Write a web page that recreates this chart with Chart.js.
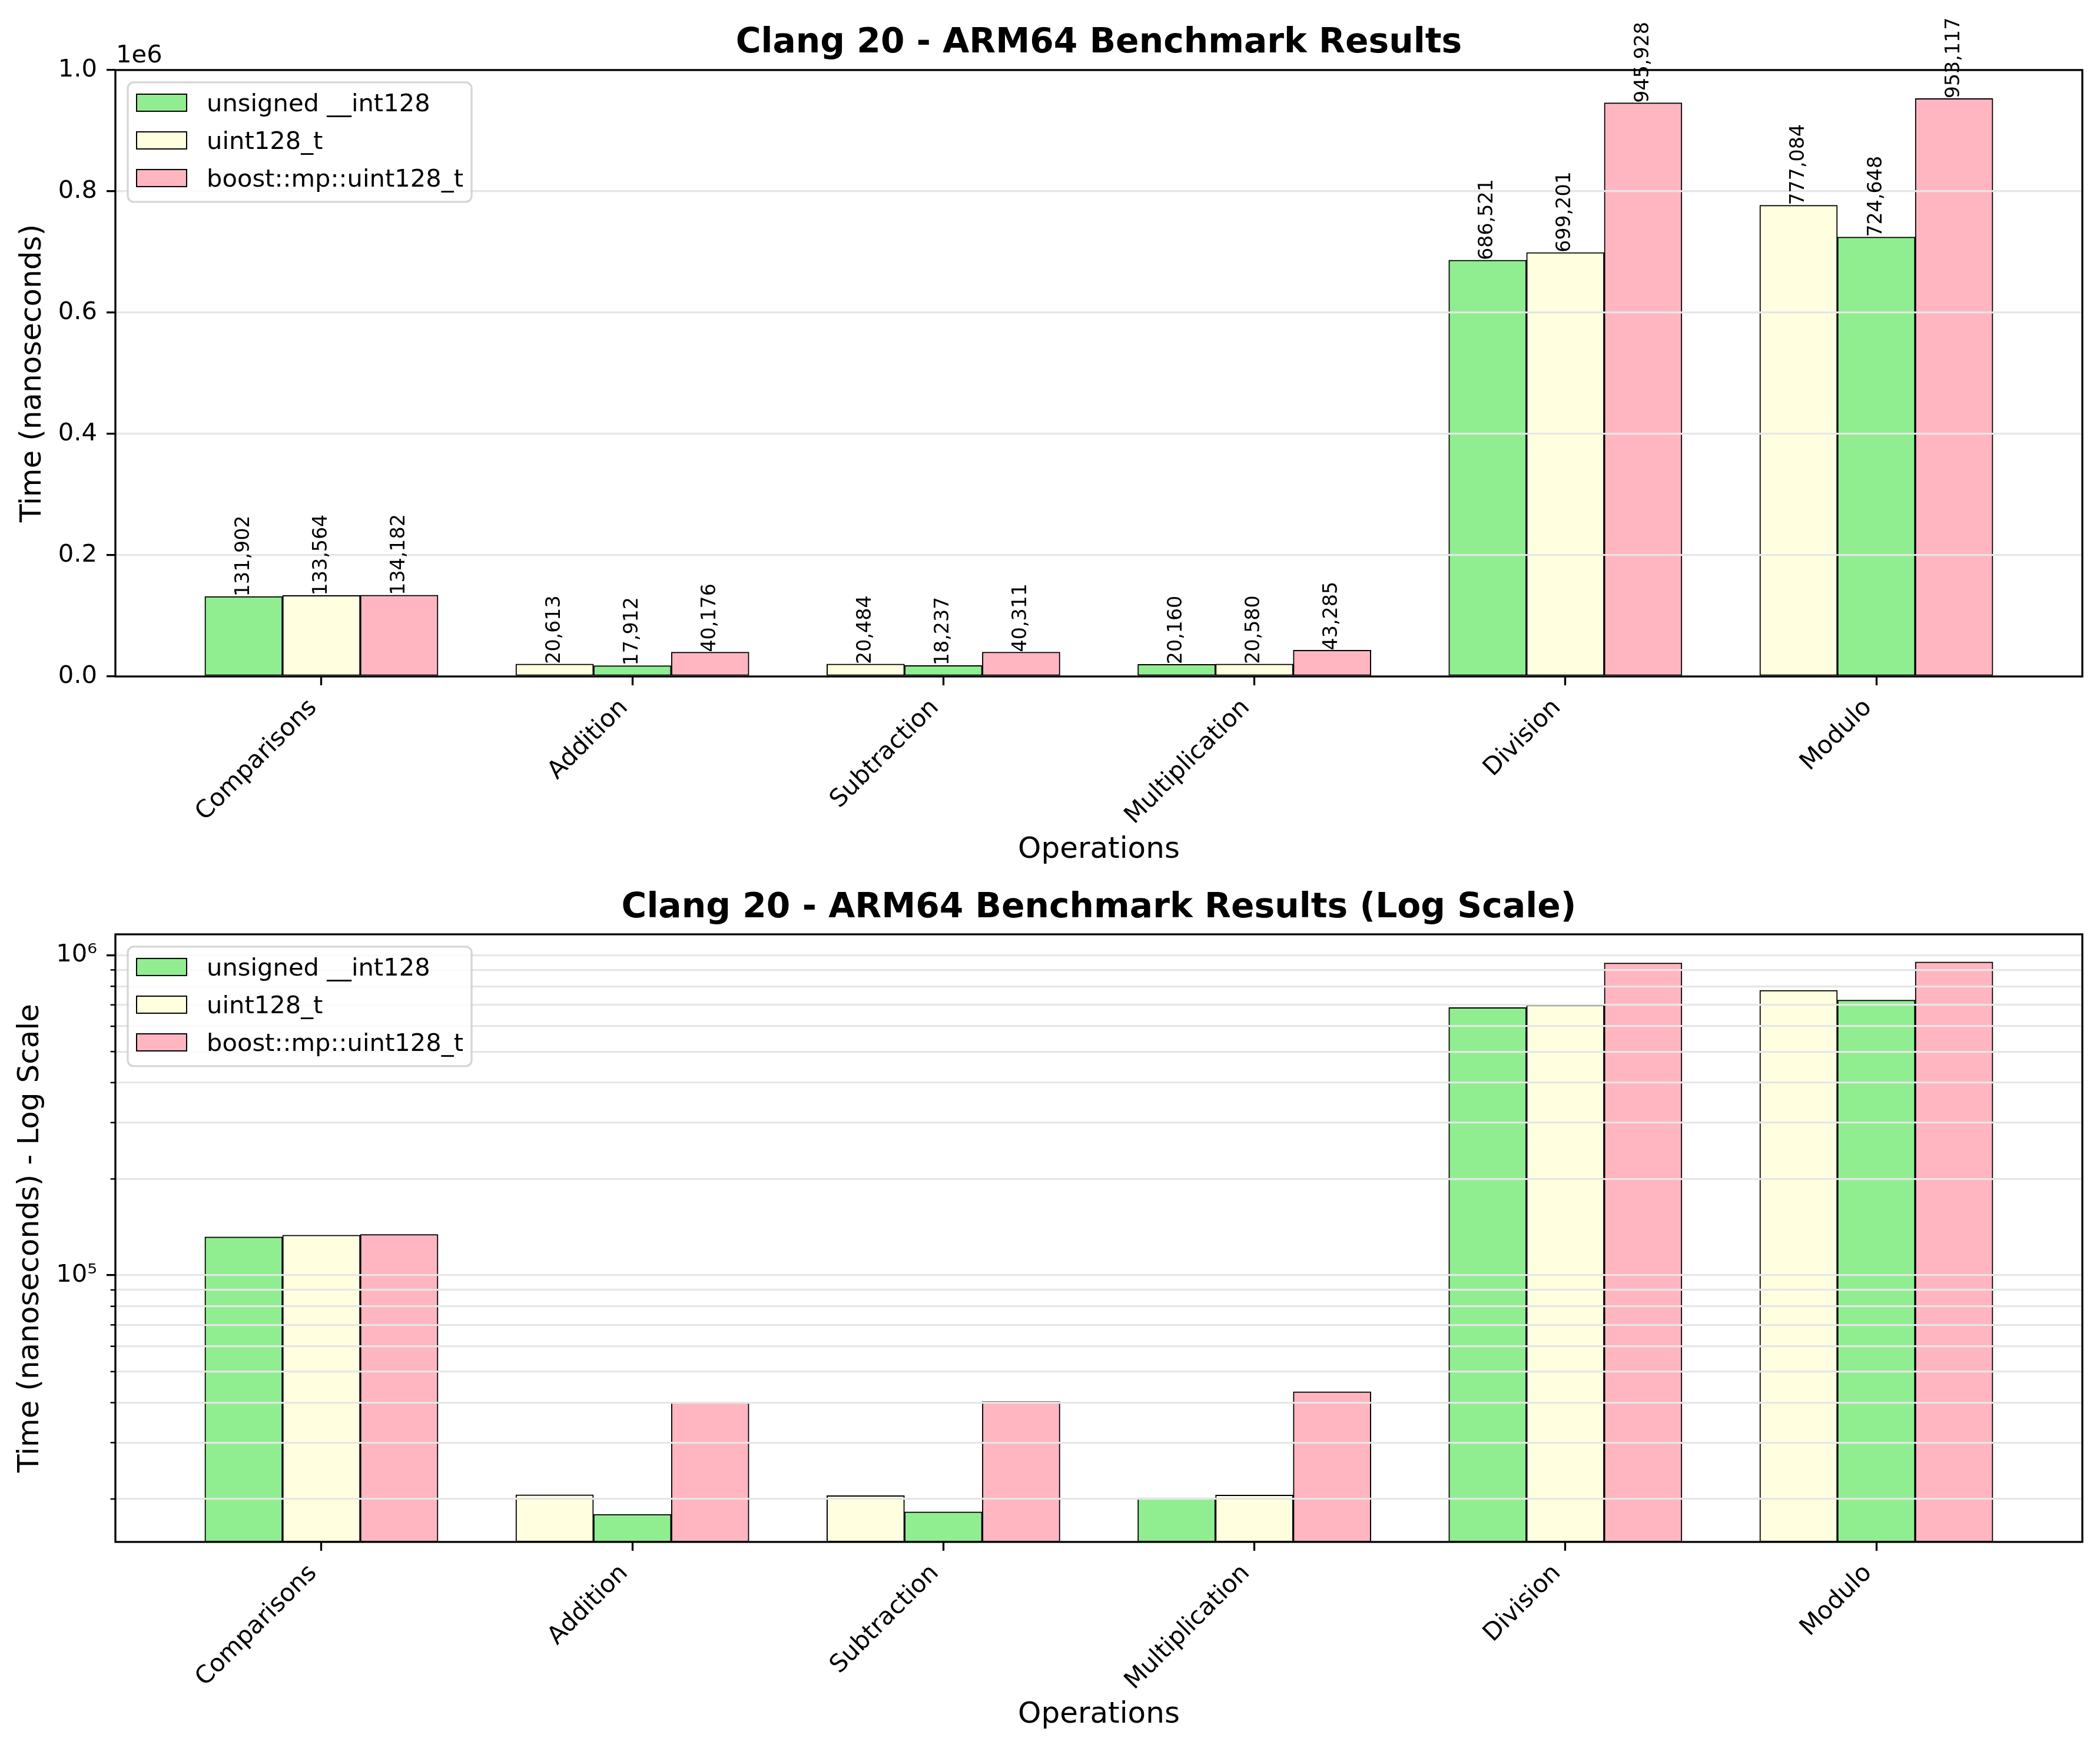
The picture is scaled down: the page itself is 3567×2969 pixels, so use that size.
<!DOCTYPE html>
<html>
<head>
<meta charset="utf-8">
<script src="https://cdn.jsdelivr.net/npm/chart.js@4.4.1/dist/chart.umd.min.js"></script>
<style>
  body { margin: 0; background: #fff; }
  canvas { position: absolute; left: 0; }
</style>
</head>
<body>
<canvas id="linearChart" width="3567" height="1500" style="top:0"></canvas>
<canvas id="logChart" width="3567" height="1469" style="top:1500px"></canvas>
<script>
const operations = ['Comparisons', 'Addition', 'Subtraction', 'Multiplication', 'Division', 'Modulo'];
const libraries = ['unsigned __int128', 'uint128_t', 'boost::mp::uint128_t'];
const int128Times = [131902, 17912, 18237, 20160, 686521, 724648];
const uint128Times = [133564, 20613, 20484, 20580, 699201, 777084];
const boostTimes = [134182, 40176, 40311, 43285, 945928, 953117];
// which slot (0 left, 1 middle, 2 right) each library gets inside a group
const int128Slot = [0, 1, 1, 0, 0, 1];
const uint128Slot = [1, 0, 0, 1, 1, 0];
const boostSlot = [2, 2, 2, 2, 2, 2];
const linearTicks = [0, 200000, 400000, 600000, 800000, 1000000];
const logMajorTicks = [1e5, 1e6];
const logMajorLabels = ['10⁵', '10⁶'];
const logMinorTicks = [2e4, 3e4, 4e4, 5e4, 6e4, 7e4, 8e4, 9e4, 2e5, 3e5, 4e5, 5e5, 6e5, 7e5, 8e5, 9e5];

const barColors = ['#90EE90', '#FFFFE0', '#FFB6C1'];
const FONT = "'DejaVu Sans', sans-serif";
const BAR_W = 0.25;

Chart.defaults.font.family = FONT;
Chart.defaults.color = '#000';

// x limits like matplotlib: bar extent plus 5% margin
const xLo = -1.5 * BAR_W, xHi = operations.length - 1 + 1.5 * BAR_W;
const X_MIN = xLo - 0.05 * (xHi - xLo), X_MAX = xHi + 0.05 * (xHi - xLo);

const allTimes = [...int128Times, ...uint128Times, ...boostTimes];
const lLo = Math.log10(Math.min(...allTimes)), lHi = Math.log10(Math.max(...allTimes));
const LOG_MIN = Math.pow(10, lLo - 0.05 * (lHi - lLo));
const LOG_MAX = Math.pow(10, lHi + 0.05 * (lHi - lLo));

function buildDatasets() {
  const series = [int128Times, uint128Times, boostTimes];
  const slots = [int128Slot, uint128Slot, boostSlot];
  return libraries.map((name, k) => ({
    label: name,
    data: series[k].map((v, i) => ({ x: i + (slots[k][i] - 1) * BAR_W, y: v })),
    backgroundColor: barColors[k],
    borderColor: '#000',
    borderWidth: 2,
    borderSkipped: false,
    grouped: false,
    categoryPercentage: 1,
    barPercentage: 1
  }));
}

function xScale(height) {
  return {
    type: 'linear',
    min: X_MIN,
    max: X_MAX,
    offset: false,
    afterBuildTicks: s => { s.ticks = operations.map((_, i) => ({ value: i })); },
    afterFit: s => { s.height = height; },
    grid: { offset: false, drawOnChartArea: false, drawTicks: true, tickLength: 15, tickColor: '#000', tickWidth: 3.3 },
    border: { display: false },
    ticks: {
      autoSkip: false, maxRotation: 45, minRotation: 45, padding: 14, labelOffset: -14,
      font: { size: 41.67 },
      callback: (v, i) => operations[i]
    },
    title: { display: true, text: 'Operations', font: { size: 50 }, padding: { top: 0, bottom: 26 } }
  };
}

const framePlugin = {
  id: 'frame',
  afterDraw(chart) {
    const { ctx, chartArea: a } = chart;
    ctx.save();
    ctx.strokeStyle = '#000';
    ctx.lineWidth = 3.3;
    ctx.strokeRect(a.left, a.top, a.right - a.left, a.bottom - a.top);
    ctx.restore();
  }
};

const valueLabelPlugin = {
  id: 'valueLabels',
  afterDraw(chart) {
    const ctx = chart.ctx;
    ctx.save();
    ctx.font = '33.3px ' + FONT;
    ctx.fillStyle = '#000';
    ctx.textAlign = 'left';
    ctx.textBaseline = 'middle';
    chart.data.datasets.forEach((ds, k) => {
      chart.getDatasetMeta(k).data.forEach((bar, i) => {
        ctx.save();
        ctx.translate(bar.x, bar.y);
        ctx.rotate(-Math.PI / 2);
        ctx.fillText(ds.data[i].y.toLocaleString('en-US'), 0, 0);
        ctx.restore();
      });
    });
    ctx.restore();
  }
};

const boxLegendPlugin = {
  id: 'boxLegend',
  afterDraw(chart) {
    const { ctx, chartArea: a } = chart;
    const x0 = a.left + 21, y0 = a.top + 21, w = 584, h = 203, r = 10;
    ctx.save();
    ctx.beginPath();
    ctx.roundRect(x0, y0, w, h, r);
    ctx.fillStyle = 'rgba(255,255,255,0.8)';
    ctx.fill();
    ctx.strokeStyle = 'rgba(204,204,204,0.8)';
    ctx.lineWidth = 3.3;
    ctx.stroke();
    ctx.font = '41.67px ' + FONT;
    ctx.textAlign = 'left';
    ctx.textBaseline = 'alphabetic';
    chart.data.datasets.forEach((ds, k) => {
      const cy = y0 + 34.5 + k * 64;
      ctx.fillStyle = ds.backgroundColor;
      ctx.fillRect(x0 + 15, cy - 14.5, 85, 29);
      ctx.strokeStyle = '#000';
      ctx.lineWidth = 2;
      ctx.strokeRect(x0 + 15, cy - 14.5, 85, 29);
      ctx.fillStyle = '#000';
      ctx.fillText(ds.label, x0 + 134, cy + 15);
    });
    ctx.restore();
  }
};

const offsetTextPlugin = {
  id: 'offsetText',
  afterDraw(chart) {
    const { ctx, chartArea: a } = chart;
    ctx.save();
    ctx.font = '41.67px ' + FONT;
    ctx.fillStyle = '#000';
    ctx.textAlign = 'left';
    ctx.textBaseline = 'alphabetic';
    ctx.fillText('1e6', a.left + 1, a.top - 13);
    ctx.restore();
  }
};

const minorTickPlugin = {
  id: 'minorTicks',
  afterDraw(chart) {
    const { ctx, chartArea: a } = chart;
    const y = chart.scales.y;
    ctx.save();
    ctx.strokeStyle = '#000';
    ctx.lineWidth = 2.5;
    y.ticks.forEach(t => {
      if (t.major) return;
      const py = y.getPixelForValue(t.value);
      ctx.beginPath();
      ctx.moveTo(a.left - 8.3, py);
      ctx.lineTo(a.left, py);
      ctx.stroke();
    });
    ctx.restore();
  }
};

new Chart(document.getElementById('linearChart'), {
  type: 'bar',
  data: { datasets: buildDatasets() },
  options: {
    responsive: false,
    animation: false,
    devicePixelRatio: 1,
    layout: { padding: { left: 0, right: 30, top: 0, bottom: 0 } },
    plugins: {
      legend: { display: false },
      tooltip: { enabled: false },
      title: {
        display: true, fullSize: false,
        text: 'Clang 20 - ARM64 Benchmark Results',
        font: { size: 58.3, weight: 'bold' },
        padding: { top: 39, bottom: 10 }
      }
    },
    scales: {
      x: xScale(351),
      y: {
        min: 0, max: 1e6,
        afterBuildTicks: s => { s.ticks = linearTicks.map(v => ({ value: v })); },
        afterFit: s => { s.width = 196; },
        grid: { color: '#e6e6e6', lineWidth: 3.3, z: 1, drawTicks: true, tickLength: 15, tickColor: '#000', tickWidth: 3.3 },
        border: { display: false },
        ticks: { padding: 16, font: { size: 41.67 }, callback: v => (v / 1e6).toFixed(1) },
        title: { display: true, text: 'Time (nanoseconds)', font: { size: 50 }, padding: { top: 26, bottom: 0 } }
      }
    }
  },
  plugins: [framePlugin, valueLabelPlugin, offsetTextPlugin, boxLegendPlugin]
});

new Chart(document.getElementById('logChart'), {
  type: 'bar',
  data: { datasets: buildDatasets() },
  options: {
    responsive: false,
    animation: false,
    devicePixelRatio: 1,
    layout: { padding: { left: 0, right: 30, top: 0, bottom: 0 } },
    plugins: {
      legend: { display: false },
      tooltip: { enabled: false },
      title: {
        display: true, fullSize: false,
        text: 'Clang 20 - ARM64 Benchmark Results (Log Scale)',
        font: { size: 58.3, weight: 'bold' },
        padding: { top: 8, bottom: 9 }
      }
    },
    scales: {
      x: xScale(350),
      y: {
        type: 'logarithmic',
        min: LOG_MIN, max: LOG_MAX,
        afterBuildTicks: s => {
          s.ticks = logMinorTicks.map(v => ({ value: v, major: false }))
            .concat(logMajorTicks.map(v => ({ value: v, major: true })))
            .sort((p, q) => p.value - q.value);
        },
        afterFit: s => { s.width = 196; },
        grid: {
          color: '#e6e6e6', lineWidth: 3.3, z: 1, drawTicks: true, tickLength: 15,
          tickColor: c => (c.tick && c.tick.major ? '#000' : 'rgba(0,0,0,0)'), tickWidth: 3.3
        },
        border: { display: false },
        ticks: {
          padding: 16, font: { size: 41.67 },
          callback: v => { const k = logMajorTicks.indexOf(v); return k >= 0 ? logMajorLabels[k] : ''; }
        },
        title: { display: true, text: 'Time (nanoseconds) - Log Scale', font: { size: 50 }, padding: { top: 22, bottom: 0 } }
      }
    }
  },
  plugins: [framePlugin, minorTickPlugin, boxLegendPlugin]
});
</script>
</body>
</html>
